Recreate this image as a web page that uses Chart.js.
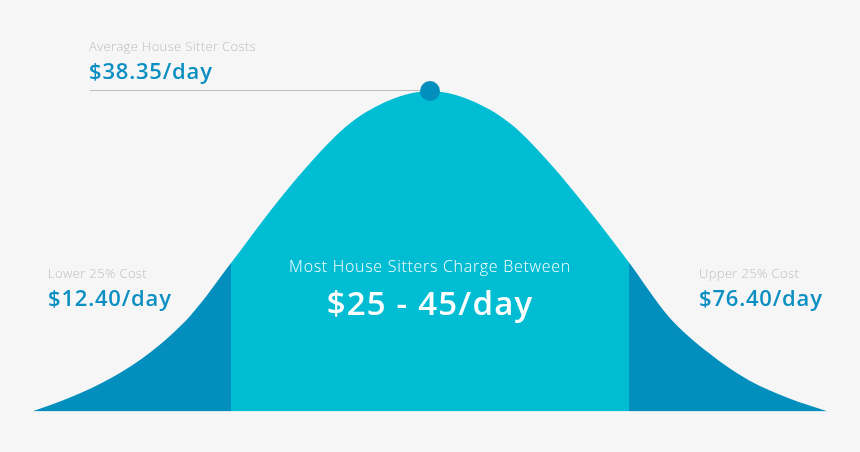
<!DOCTYPE html>
<html>
<head>
<meta charset="utf-8">
<script src="https://cdn.jsdelivr.net/npm/chart.js@4.4.1/dist/chart.umd.min.js"></script>
<style>
    html, body { margin: 0; padding: 0; background: #f6f6f6; }
    #wrap { width: 860px; height: 452px; }
</style>
</head>
<body>
<div id="wrap"><canvas id="bell" width="860" height="452"></canvas></div>
<script>
    // percentile position along the curve (0-100) and relative share of sitters
    const positions = [0, 5, 10, 15, 20, 25, 30, 35, 40, 45, 50, 55, 60, 65, 70, 75, 80, 85, 90, 95, 100];
    const density = [0, 4.6, 10.5, 18.7, 30.2, 46.3, 62.8, 77.7, 90, 97.2, 100, 97.2, 90, 77.6, 62.6, 46.5, 29.6, 18.3, 9.8, 4.2, 0];
    const lowerCut = 25;
    const upperCut = 75;
    const peakAt = 50;

    const averageTitle = 'Average House Sitter Costs';
    const averageValue = '$38.35/day';
    const lowerTitle = 'Lower 25% Cost';
    const lowerValue = '$12.40/day';
    const upperTitle = 'Upper 25% Cost';
    const upperValue = '$76.40/day';
    const middleTitle = 'Most House Sitters Charge Between';
    const middleValue = '$25 - 45/day';

    const LIGHT = '#00bdd4';
    const DARK = '#028fbe';
    const BLUE_TEXT = '#0b8fc2';
    const GREY_TEXT = '#bdbdbd';
    const FONT = '"Open Sans", Lato, sans-serif';

    const labels = {
        id: 'labels',

        beforeDatasetsDraw(chart) {
            const { ctx, scales: { x, y } } = chart;
            const py = y.getPixelForValue(100) - 0.5;

            ctx.save();
            ctx.strokeStyle = '#bcbcbc';
            ctx.lineWidth = 1;
            ctx.beginPath();
            ctx.moveTo(90, py);
            ctx.lineTo(x.getPixelForValue(peakAt), py);
            ctx.stroke();
            ctx.restore();
        },

        afterDatasetsDraw(chart) {
            const { ctx, scales: { x } } = chart;
            const mid = x.getPixelForValue(peakAt);

            ctx.save();
            ctx.textAlign = 'left';
            ctx.textBaseline = 'alphabetic';

            ctx.fillStyle = GREY_TEXT;
            ctx.font = `300 13px ${FONT}`;
            ctx.letterSpacing = '0.35px';
            ctx.fillText(averageTitle, 89, 51);
            ctx.fillText(lowerTitle, 48, 278);
            ctx.fillText(upperTitle, 699, 278);

            ctx.fillStyle = BLUE_TEXT;
            ctx.font = `600 22px ${FONT}`;
            ctx.letterSpacing = '0.8px';
            ctx.fillText(averageValue, 89, 79);
            ctx.fillText(lowerValue, 48, 306);
            ctx.fillText(upperValue, 699, 306);

            ctx.fillStyle = '#ffffff';
            ctx.textAlign = 'center';
            ctx.font = `300 16px ${FONT}`;
            ctx.letterSpacing = '0.7px';
            ctx.fillText(middleTitle, mid, 272);
            ctx.font = `600 33px ${FONT}`;
            ctx.letterSpacing = '1.2px';
            ctx.fillText(middleValue, mid, 315);
            ctx.restore();
        }
    };

    new Chart(
        document.getElementById('bell'),
        {
            type: 'line',
            plugins: [labels],
            data: {
                datasets: [
                    {
                        data: positions.map((p, i) => ({ x: p, y: density[i] })),
                        fill: 'origin',
                        clip: false,
                        backgroundColor: LIGHT,
                        borderWidth: 0,
                        borderColor: 'rgba(0,0,0,0)',
                        cubicInterpolationMode: 'monotone',
                        pointRadius: positions.map(p => p === peakAt ? 10 : 0),
                        pointBackgroundColor: DARK,
                        pointBorderWidth: 0,
                        pointHoverRadius: 0,
                        segment: {
                            backgroundColor: c =>
                                (c.p0.parsed.x < lowerCut || c.p0.parsed.x >= upperCut) ? DARK : LIGHT
                        }
                    }
                ]
            },
            options: {
                responsive: false,
                animation: false,
                events: [],
                layout: {
                    padding: { left: 32, right: 32, top: 91, bottom: 40.5 }
                },
                scales: {
                    x: { type: 'linear', min: 0, max: 100, display: false },
                    y: { min: 0, max: 100, display: false }
                },
                plugins: {
                    legend: { display: false },
                    tooltip: { enabled: false }
                }
            }
        }
    );
</script>
</body>
</html>
